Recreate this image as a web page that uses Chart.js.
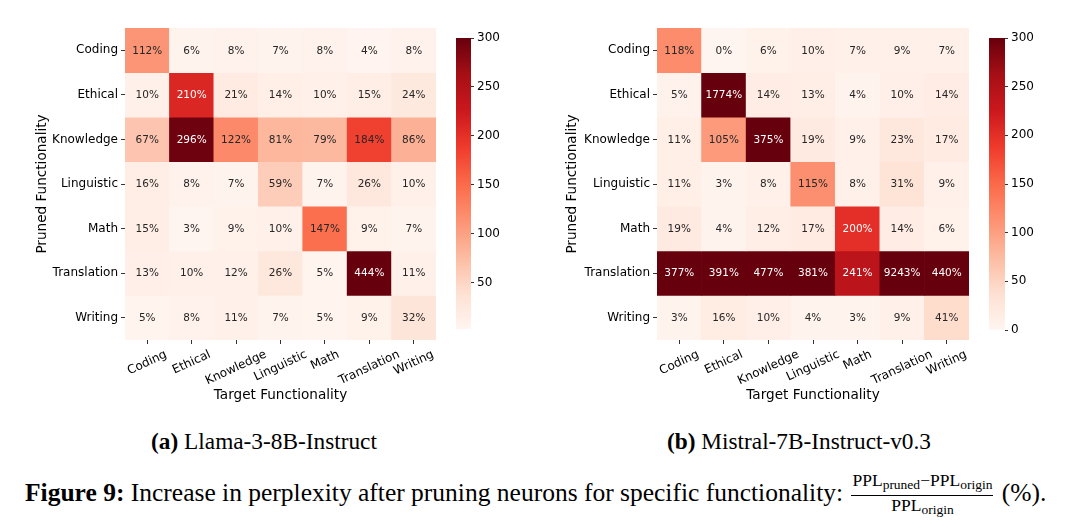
<!DOCTYPE html>
<html>
<head>
<meta charset="utf-8">
<script src="https://cdn.jsdelivr.net/npm/chart.js@4.4.1/dist/chart.umd.min.js"></script>
<style>
  body { margin: 0; background: #fff; }
  #fig { position: relative; width: 1080px; height: 529px; overflow: hidden; }
  canvas { position: absolute; }
  .sub { position: absolute; top: 427px; font-family: "Liberation Serif"; font-size: 23.3px; line-height: 28px;
         color: #000; white-space: nowrap; transform: translateX(-50%); }
  .caption { position: absolute; left: 25px; top: 472px; font-family: "Liberation Serif";
             font-size: 25.5px; line-height: 40px; color: #000; white-space: nowrap; }
  .frac { display: inline-block; vertical-align: middle; text-align: center; font-size: 17.5px; line-height: 17px; margin: 0 2px; }
  .frac .num { display: block; border-bottom: 1px solid #000; padding: 0 1px 2px; }
  .frac .den { display: block; padding-top: 1px; }
  .frac sub { font-size: 13.5px; vertical-align: -3px; }
</style>
</head>
<body>
<div id="fig">
  <canvas id="llama" width="450" height="408" style="left:0;top:0"></canvas>
  <canvas id="llamaBar" width="100" height="360" style="left:440px;top:0"></canvas>
  <canvas id="mistral" width="440" height="408" style="left:540px;top:0"></canvas>
  <canvas id="mistralBar" width="107" height="360" style="left:973px;top:0"></canvas>
  <div class="sub" style="left:264px"><b>(a)</b> Llama-3-8B-Instruct</div>
  <div class="sub" style="left:799px"><b>(b)</b> Mistral-7B-Instruct-v0.3</div>
  <div class="caption"><b>Figure 9:</b> Increase in perplexity after pruning neurons for specific functionality: <span class="frac"><span class="num">PPL<sub>pruned</sub>−PPL<sub>origin</sub></span><span class="den">PPL<sub>origin</sub></span></span> (%).</div>
</div>
<script>
// rows = pruned functionality, columns = target functionality
const functionalities = ["Coding", "Ethical", "Knowledge", "Linguistic", "Math", "Translation", "Writing"];

const llamaPpl = [
  [112, 6, 8, 7, 8, 4, 8],
  [10, 210, 21, 14, 10, 15, 24],
  [67, 296, 122, 81, 79, 184, 86],
  [16, 8, 7, 59, 7, 26, 10],
  [15, 3, 9, 10, 147, 9, 7],
  [13, 10, 12, 26, 5, 444, 11],
  [5, 8, 11, 7, 5, 9, 32]
];

const mistralPpl = [
  [118, 0, 6, 10, 7, 9, 7],
  [5, 1774, 14, 13, 4, 10, 14],
  [11, 105, 375, 19, 9, 23, 17],
  [11, 3, 8, 115, 8, 31, 9],
  [19, 4, 12, 17, 200, 14, 6],
  [377, 391, 477, 381, 241, 9243, 440],
  [3, 16, 10, 4, 3, 9, 41]
];

const llamaRange = [3, 300];
const mistralRange = [0, 300];
const llamaTicks = [50, 100, 150, 200, 250, 300];
const mistralTicks = [0, 50, 100, 150, 200, 250, 300];

// matplotlib "Reds"
const reds = ["#fff5f0", "#fee0d2", "#fcbba1", "#fc9272", "#fb6a4a", "#ef3b2c", "#cb181d", "#a50f15", "#67000d"];

function hexRgb(h) {
  return [1, 3, 5].map(i => parseInt(h.slice(i, i + 2), 16));
}

function redsAt(t) {
  t = Math.min(1, Math.max(0, t));
  const p = t * (reds.length - 1);
  const i = Math.min(Math.floor(p), reds.length - 2);
  const f = p - i;
  const a = hexRgb(reds[i]), b = hexRgb(reds[i + 1]);
  return "rgb(" + a.map((v, k) => Math.round(v + (b[k] - v) * f)).join(",") + ")";
}

const FONT = "'DejaVu Sans', sans-serif";

const cellLabels = {
  id: "cellLabels",
  afterDatasetsDraw(chart, args, opts) {
    const ctx = chart.ctx;
    const [lo, hi] = opts.range;
    ctx.save();
    ctx.font = "10.5px " + FONT;
    ctx.textAlign = "center";
    ctx.textBaseline = "middle";
    chart.data.datasets.forEach((ds, r) => {
      chart.getDatasetMeta(r).data.forEach((bar, c) => {
        const v = ds.ppl[c];
        ctx.fillStyle = (v - lo) / (hi - lo) > 0.64 ? "#ffffff" : "#262626";
        ctx.fillText(v + "%", bar.x, (bar.y + bar.base) / 2 + 0.5);
      });
    });
    ctx.restore();
  }
};

// x tick labels rotated about their centre, like matplotlib rotation=25
const slantedTicks = {
  id: "slantedTicks",
  afterDraw(chart) {
    const ctx = chart.ctx;
    const s = chart.scales.x;
    const ang = 25 * Math.PI / 180;
    ctx.save();
    ctx.font = "12px " + FONT;
    ctx.fillStyle = "#000";
    ctx.textAlign = "center";
    ctx.textBaseline = "middle";
    s.ticks.forEach((t, i) => {
      const label = chart.data.labels[i];
      const w = ctx.measureText(label).width;
      const cy = s.top + 8 + (w * Math.sin(ang) + 13 * Math.cos(ang)) / 2;
      ctx.save();
      ctx.translate(s.getPixelForTick(i), cy);
      ctx.rotate(-ang);
      ctx.fillText(label, 0, 0);
      ctx.restore();
    });
    ctx.restore();
  }
};

function heatmap(id, values, range, pad, yWidth) {
  const [lo, hi] = range;
  return new Chart(document.getElementById(id), {
    type: "bar",
    data: {
      labels: functionalities,
      datasets: values.map((row, r) => ({
        label: functionalities[r],
        data: row.map(() => [r - 0.5, r + 0.5]),
        ppl: row,
        backgroundColor: row.map(v => redsAt((v - lo) / (hi - lo))),
        borderWidth: 0,
        barPercentage: 1,
        categoryPercentage: 1,
        grouped: false
      }))
    },
    options: {
      responsive: false,
      animation: false,
      layout: { padding: pad },
      plugins: {
        legend: { display: false },
        tooltip: { enabled: false },
        cellLabels: { range: range }
      },
      scales: {
        x: {
          grid: { offset: false, drawOnChartArea: false, drawTicks: true, tickLength: 4, color: "#333" },
          border: { display: false },
          ticks: { display: false },
          title: { display: true, text: "Target Functionality", color: "#000", font: { family: FONT, size: 13.6 } },
          afterFit: s => { s.height = 68; }
        },
        y: {
          reverse: true,
          min: -0.5,
          max: 6.5,
          afterBuildTicks: s => { s.ticks = functionalities.map((_, i) => ({ value: i })); },
          grid: { drawOnChartArea: false, drawTicks: true, tickLength: 4, color: "#333" },
          border: { display: false },
          ticks: { padding: 3, color: "#000", font: { family: FONT, size: 12 }, callback: v => functionalities[v] },
          title: { display: true, text: "Pruned Functionality", color: "#000", font: { family: FONT, size: 13.6 } },
          afterFit: s => { s.width = yWidth; }
        }
      }
    },
    plugins: [cellLabels, slantedTicks]
  });
}

function colorbar(id, range, ticks, pad, axisWidth) {
  return new Chart(document.getElementById(id), {
    type: "bar",
    data: {
      labels: [""],
      datasets: [{
        data: [range],
        backgroundColor: c => {
          const a = c.chart.chartArea;
          if (!a) return reds[0];
          const g = c.chart.ctx.createLinearGradient(0, a.bottom, 0, a.top);
          reds.forEach((col, i) => g.addColorStop(i / (reds.length - 1), col));
          return g;
        },
        borderWidth: 0,
        barPercentage: 1,
        categoryPercentage: 1
      }]
    },
    options: {
      responsive: false,
      animation: false,
      layout: { padding: pad },
      plugins: { legend: { display: false }, tooltip: { enabled: false } },
      scales: {
        x: { display: false },
        y: {
          position: "right",
          min: range[0],
          max: range[1],
          afterBuildTicks: s => { s.ticks = ticks.map(v => ({ value: v })); },
          grid: { drawOnChartArea: false, drawTicks: true, tickLength: 3, color: "#333" },
          border: { display: false },
          ticks: { padding: 3, color: "#000", font: { family: FONT, size: 12 } },
          afterFit: s => { s.width = axisWidth; }
        }
      }
    }
  });
}

heatmap("llama", llamaPpl, llamaRange, { left: 30, top: 28, right: 14, bottom: 0 }, 95);
colorbar("llamaBar", llamaRange, llamaTicks, { left: 16, top: 38, bottom: 31, right: 0 }, 69);
heatmap("mistral", mistralPpl, mistralRange, { left: 20, top: 28, right: 11, bottom: 0 }, 97);
colorbar("mistralBar", mistralRange, mistralTicks, { left: 16, top: 38, bottom: 30, right: 0 }, 75);
</script>
</body>
</html>
